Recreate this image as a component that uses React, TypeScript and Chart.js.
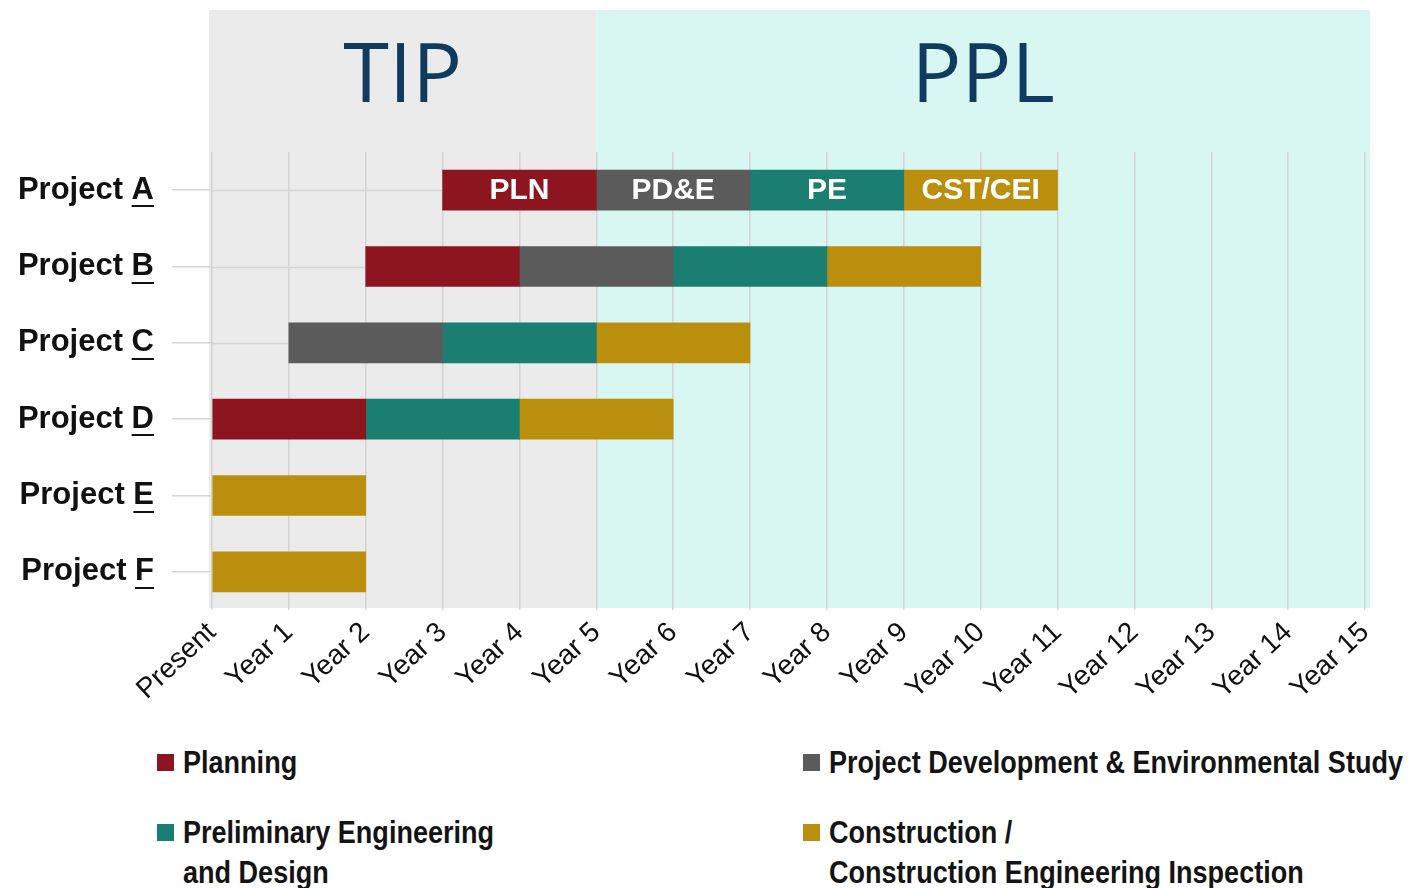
import React, { useEffect, useRef } from "react";
import { Chart, registerables } from "chart.js";

Chart.register(...registerables);

const projects = ["Project A", "Project B", "Project C", "Project D", "Project E", "Project F"];
const xTickLabels = [
  "Present", "Year 1", "Year 2", "Year 3", "Year 4", "Year 5", "Year 6", "Year 7",
  "Year 8", "Year 9", "Year 10", "Year 11", "Year 12", "Year 13", "Year 14", "Year 15",
];
const phaseNames = [
  "Planning",
  "Project Development & Environmental Study",
  "Preliminary Engineering\nand Design",
  "Construction /\nConstruction Engineering Inspection",
];
const phaseShort = ["PLN", "PD&E", "PE", "CST/CEI"];
const phaseColors = ["#8c1520", "#5b5b5b", "#1a7e71", "#bb8f0e"];

// [start, end] in years from present, per project (A..F)
const planning = [[3, 5], [2, 4], null, [0, 2], null, null];
const pdAndE = [[5, 7], [4, 6], [1, 3], null, null, null];
const prelimEng = [[7, 9], [6, 8], [3, 5], [2, 4], null, null];
const construction = [[9, 11], [8, 10], [5, 7], [4, 6], [0, 2], [0, 2]];

const regionLabels = ["TIP", "PPL"];
const regionStart = [0, 5];
const regionEnd = [5, 15];
const regionColors = ["#ebebeb", "#d8f7f2"];

const TITLE_COLOR = "#0f3b5f";
const LABEL_FONT = '"Liberation Sans", Arial, sans-serif';

export default function App() {
  const canvasRef = useRef<HTMLCanvasElement | null>(null);

  useEffect(() => {
    const canvas = canvasRef.current;
    if (!canvas) return;

    const backgroundPlugin = {
      id: "regionsBg",
      beforeDraw(chart: any) {
        const { ctx, chartArea, scales } = chart;
        const xs = scales.x;
        ctx.save();
        for (let i = 0; i < regionLabels.length; i++) {
          let x0 = xs.getPixelForValue(regionStart[i]);
          let x1 = xs.getPixelForValue(regionEnd[i]);
          if (i === 0) x0 -= 3;
          if (i === regionLabels.length - 1) x1 += 5;
          ctx.fillStyle = regionColors[i];
          ctx.fillRect(x0, 10, x1 - x0, chartArea.bottom - 12);
          ctx.fillStyle = TITLE_COLOR;
          ctx.font = '400 83px "Open Sans", sans-serif';
          ctx.textAlign = "center";
          ctx.textBaseline = "alphabetic";
          ctx.fillText(regionLabels[i], (x0 + x1) / 2, 102);
        }
        ctx.restore();
      },
    };

    const leaderPlugin = {
      id: "leaders",
      beforeDatasetsDraw(chart: any) {
        const { ctx, chartArea, scales } = chart;
        const all = [planning, pdAndE, prelimEng, construction];
        ctx.save();
        ctx.strokeStyle = "#d4d4d4";
        ctx.lineWidth = 1.5;
        for (let i = 0; i < projects.length; i++) {
          let minStart = Infinity;
          for (const s of all) {
            const v = s[i];
            if (v && v[0] < minStart) minStart = v[0];
          }
          if (!isFinite(minStart)) continue;
          const xEnd = scales.x.getPixelForValue(minStart);
          if (xEnd <= chartArea.left) continue;
          const y = Math.round(scales.y.getPixelForValue(i)) + 0.5;
          ctx.beginPath();
          ctx.moveTo(chartArea.left, y);
          ctx.lineTo(xEnd, y);
          ctx.stroke();
        }
        ctx.restore();
      },
    };

    const barTextPlugin = {
      id: "barText",
      afterDatasetsDraw(chart: any) {
        const { ctx } = chart;
        ctx.save();
        ctx.fillStyle = "#ffffff";
        ctx.font = `bold 30px ${LABEL_FONT}`;
        ctx.textAlign = "center";
        ctx.textBaseline = "middle";
        chart.data.datasets.forEach((_ds: any, di: number) => {
          const el = chart.getDatasetMeta(di).data[0];
          if (!el) return;
          const x = (el.x + el.base) / 2;
          ctx.fillText(phaseShort[di], x, el.y + 1);
        });
        ctx.restore();
      },
    };

    const underlinePlugin = {
      id: "underline",
      afterDraw(chart: any) {
        const { ctx, scales } = chart;
        const ys = scales.y;
        ctx.save();
        ctx.font = `bold 31px ${LABEL_FONT}`;
        ctx.strokeStyle = "#111111";
        ctx.lineWidth = 2;
        const xRight = ys.right - 40 - 18;
        for (let i = 0; i < projects.length; i++) {
          const label = projects[i];
          const last = label.slice(-1);
          const w = ctx.measureText(last).width;
          const y = Math.round(ys.getPixelForValue(i)) + 16;
          ctx.beginPath();
          ctx.moveTo(xRight - w, y);
          ctx.lineTo(xRight, y);
          ctx.stroke();
        }
        ctx.restore();
      },
    };

    const sets = [planning, pdAndE, prelimEng, construction];
    const chart = new Chart(canvas, {
      type: "bar",
      data: {
        labels: projects,
        datasets: sets.map((d, i) => ({
          label: phaseNames[i],
          data: d as any,
          backgroundColor: phaseColors[i],
          borderWidth: 0,
          grouped: false,
          barThickness: 40,
        })),
      },
      options: {
        indexAxis: "y",
        responsive: false,
        animation: false,
        layout: { padding: { top: 152, right: 56, left: 0, bottom: 0 } },
        plugins: {
          legend: { display: false },
          tooltip: { enabled: false },
          title: { display: false },
        },
        scales: {
          x: {
            type: "linear",
            min: 0,
            max: 15,
            ticks: {
              stepSize: 1,
              autoSkip: false,
              minRotation: 43,
              maxRotation: 43,
              padding: 6,
              color: "#111111",
              font: { family: LABEL_FONT, size: 28 },
              callback: (v: any) => xTickLabels[Number(v)] ?? "",
            },
            grid: { color: "#d4d4d4", lineWidth: 1.5, drawTicks: false },
            border: { display: false },
            afterFit: (scale: any) => {
              scale.height = 110;
            },
          },
          y: {
            type: "category",
            ticks: {
              padding: 18,
              color: "#111111",
              font: { family: LABEL_FONT, size: 31, weight: "bold" },
            },
            grid: {
              offset: false,
              drawOnChartArea: false,
              drawTicks: true,
              tickLength: 40,
              color: "#d4d4d4",
              lineWidth: 1.5,
            },
            border: { display: false },
            afterFit: (scale: any) => {
              scale.width = 212;
            },
          },
        },
      },
      plugins: [backgroundPlugin, leaderPlugin, barTextPlugin, underlinePlugin],
    });

    return () => chart.destroy();
  }, []);

  const colX = [157, 803];
  const rowY = [742, 812];
  const order = [0, 1, 2, 3];

  return (
    <div style={{ position: "fixed", left: 0, top: 0, width: 1421, height: 888, background: "#ffffff", overflow: "hidden" }}>
      <canvas ref={canvasRef} width={1421} height={720} style={{ position: "absolute", left: 0, top: 0, width: 1421, height: 720 }} />
      {order.map((pi, k) => {
        const col = k % 2;
        const row = Math.floor(k / 2);
        return (
          <div key={pi} style={{ position: "absolute", left: colX[col], top: rowY[row] }}>
            <div
              style={{
                position: "absolute",
                left: 0,
                top: 12,
                width: 17,
                height: 17,
                background: phaseColors[pi],
              }}
            />
            <div
              style={{
                position: "absolute",
                left: 26,
                top: 0,
                whiteSpace: "pre",
                fontFamily: LABEL_FONT,
                fontWeight: 700,
                fontSize: 32,
                lineHeight: "40px",
                color: "#141414",
                transform: "scaleX(0.845)",
                transformOrigin: "left top",
              }}
            >
              {phaseNames[pi]}
            </div>
          </div>
        );
      })}
    </div>
  );
}
